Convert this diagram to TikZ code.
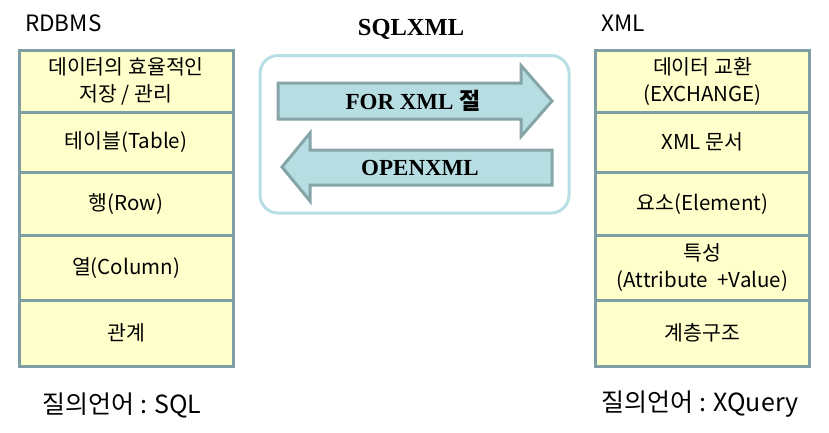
\documentclass[tikz,border=0pt]{standalone}
\usepackage{fontspec}
\setmainfont{Noto Sans CJK KR}
\newfontfamily\serifbold{Liberation Serif}
\usepackage{tikz}
\definecolor{cellfill}{RGB}{255,255,204}
\definecolor{celledge}{RGB}{127,158,164}
\definecolor{boxedge}{RGB}{183,223,227}
\definecolor{arrowfill}{RGB}{182,221,226}
\definecolor{arrowedge}{RGB}{133,165,168}

\tikzset{
  cell/.style={draw=celledge, fill=cellfill, line width=3pt, outer sep=0pt, inner sep=0pt,
    minimum width=214pt, align=center, font=\fontsize{20.5}{27}\selectfont},
  head/.style={anchor=west, inner sep=0pt, font=\fontsize{22.5}{26}\selectfont},
  query/.style={inner sep=0pt, font=\fontsize{25}{30}\selectfont},
  band/.style={draw=arrowedge, fill=arrowfill, line width=3pt, line join=miter},
  bandtext/.style={inner sep=0pt, font=\fontsize{23}{26}\selectfont\bfseries\serifbold}
}

\begin{document}
\begin{tikzpicture}[x=10pt,y=10pt]
\useasboundingbox (0,0) rectangle (82.9,-43.2);
\node (rdbms) [head] at (2.5,-2.35) {RDBMS};
\node (xml) [head] at (60.1,-2.35) {XML};
\node (sqlxml) [inner sep=0pt, font=\fontsize{24.5}{28}\selectfont\bfseries\serifbold] at (41.1,-2.95) {SQLXML};
\node (r1) [cell, minimum height=62pt] at (12.6,-8.1) {데이터의 효율적인\\저장 / 관리};
\node (r2) [cell, minimum height=60.5pt] at (12.6,-14.225) {테이블(Table)};
\node (r3) [cell, minimum height=63pt] at (12.6,-20.4) {행(Row)};
\node (r4) [cell, minimum height=64.5pt] at (12.6,-26.775) {열(Column)};
\node (r5) [cell, minimum height=66pt] at (12.6,-33.3) {관계};
\node (x1) [cell, minimum height=62pt] at (70.25,-8.1) {데이터 교환\\(EXCHANGE)};
\node (x2) [cell, minimum height=60.5pt] at (70.25,-14.225) {XML 문서};
\node (x3) [cell, minimum height=63pt] at (70.25,-20.4) {요소(Element)};
\node (x4) [cell, minimum height=64.5pt] at (70.25,-26.775) {특성\\(Attribute~ +Value)};
\node (x5) [cell, minimum height=66pt] at (70.25,-33.3) {계층구조};
\node (sqlq) [query] at (12.2,-40.5) {질의언어 : SQL};
\node (xq) [query] at (70.0,-40.4) {질의언어 : XQuery};
\draw [boxedge, line width=3pt, rounded corners=18pt] (26.0,-5.55) rectangle (56.9,-21.3);
\draw [band] (27.8,-8.3) -- (52.1,-8.3) -- (52.1,-6.55) -- (55.2,-10.1) -- (52.1,-13.65)
  -- (52.1,-11.9) -- (27.8,-11.9) -- cycle;
\draw [band] (55.2,-15.0) -- (31.0,-15.0) -- (31.0,-13.3) -- (28.2,-16.7) -- (31.0,-20.1)
  -- (31.0,-18.5) -- (55.2,-18.5) -- cycle;
\node (forxml) [bandtext] at (41.3,-10.1) {FOR XML {\rmfamily 절}};
\node (openxml) [bandtext] at (42.0,-16.75) {OPENXML};
\end{tikzpicture}
\end{document}
